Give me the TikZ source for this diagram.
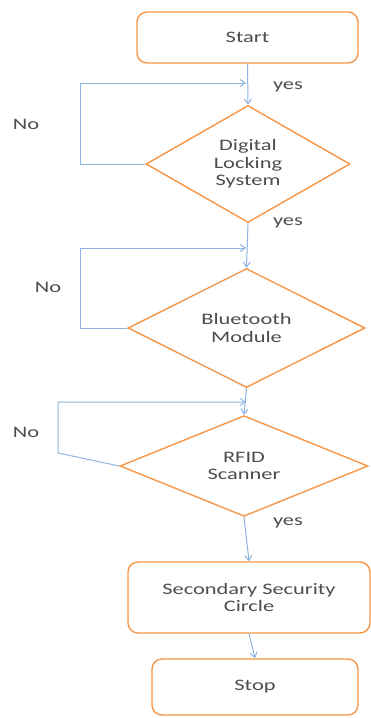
\documentclass[tikz,border=0pt]{standalone}
\usepackage{fontspec}
\setmainfont{Carlito}[FakeStretch=1.4]
\usetikzlibrary{shapes.geometric}
\usetikzlibrary{arrows.meta}

\definecolor{boxorange}{HTML}{F79646}
\definecolor{lineblue}{HTML}{8DB3E2}
\definecolor{textgray}{HTML}{4D4D4D}

\tikzset{
    procbox/.style={draw=boxorange, line width=1.4pt, rounded corners=10pt, fill=white,
        text=textgray, align=center, font=\fontsize{16}{17.5}\selectfont},
    decision/.style={draw=boxorange, line width=1.4pt, diamond, inner sep=0pt, fill=white,
        text=textgray, align=center, font=\fontsize{16}{17.5}\selectfont},
    flow/.style={draw=lineblue, line width=1pt, -{Straight Barb[length=5pt,width=7pt]}},
    lbl/.style={text=textgray, font=\fontsize{16}{17.5}\selectfont}
}

\begin{document}
\begin{tikzpicture}[x=1pt,y=-1pt]
                \useasboundingbox (0,0) rectangle (370,718);

                \node[procbox, minimum width=221pt, minimum height=51pt] (start) at (247.5,37.5) {Start};
                \node[decision, minimum width=204pt, minimum height=117pt] (dls) at (248,164) {Digital\\Locking\\System};
                \node[decision, minimum width=237pt, minimum height=117pt] (bt) at (246.5,328) {Bluetooth\\Module};
                \node[decision, minimum width=248pt, minimum height=76pt] (rfid) at (244,466) {RFID\\Scanner};
                \node[procbox, minimum width=242pt, minimum height=71pt] (sec) at (249,597.5) {Secondary Security\\Circle};
                \node[procbox, minimum width=206pt, minimum height=56pt] (stop) at (255,687) {Stop};

                \coordinate (j1) at (246,83);
                \coordinate (j2) at (246,248);
                \coordinate (j3) at (246,402);

                \coordinate (l1a) at (80,164);
                \coordinate (l1b) at (80,83);
                \coordinate (l2a) at (80,328);
                \coordinate (l2b) at (80,248);
                \coordinate (l3a) at (58,453);
                \coordinate (l3b) at (58,402);

                \draw[flow] (start.south) -- (dls.north);
                \draw[flow] (dls.south) -- (bt.north);
                \draw[flow] (bt.south) -- (rfid.north);
                \draw[flow] (rfid.south) -- (sec.north);
                \draw[flow] (sec.south) -- (stop.north);

                \draw[flow] (dls.west) -- (l1a) -- (l1b) -- (j1);
                \draw[flow] (bt.west) -- (l2a) -- (l2b) -- (j2);
                \draw[flow] (rfid.west) -- (l3a) -- (l3b) -- (j3);

                \node[lbl] (yes1) at (288,87) {yes};
                \node[lbl] (yes2) at (288,223) {yes};
                \node[lbl] (yes3) at (288,523) {yes};
                \node[lbl] (no1) at (26,124) {No};
                \node[lbl] (no2) at (48,287) {No};
                \node[lbl] (no3) at (26,432) {No};
            \end{tikzpicture}
\end{document}
